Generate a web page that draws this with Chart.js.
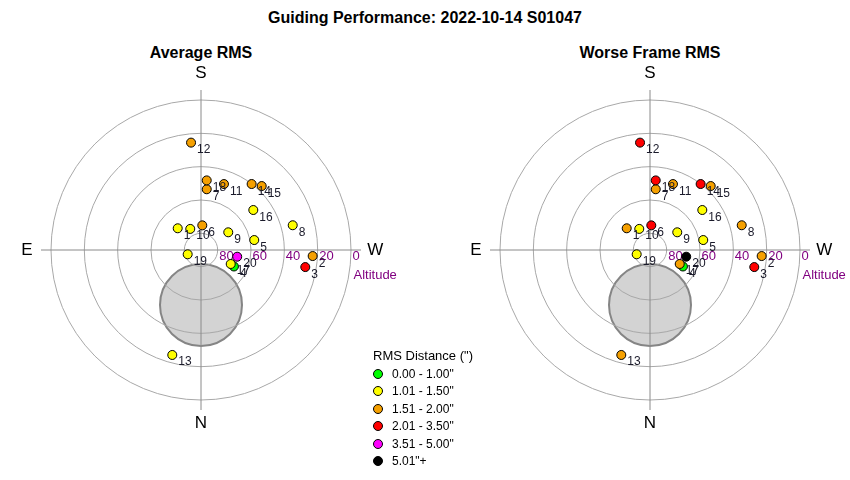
<!DOCTYPE html>
<html>
<head>
<meta charset="utf-8">
<script src="https://cdn.jsdelivr.net/npm/chart.js@4.4.1/dist/chart.umd.min.js"></script>
<style>
  html, body { margin:0; padding:0; background:#fff; }
  body { width:850px; height:480px; position:relative; overflow:hidden; font-family:"Liberation Sans", Arial, sans-serif; }
  .t { position:absolute; white-space:nowrap; transform:translate(-50%,-50%); color:#000; }
  .main { left:425px; top:18px; font-weight:bold; font-size:16px; }
  .sub { top:53px; font-weight:bold; font-size:16px; }
  canvas { position:absolute; }
  #legend { position:absolute; left:368px; top:348px; font-size:12px; }
  #legend .lt { position:absolute; left:5px; top:0; font-size:13px; white-space:nowrap; }
  #legend .it { position:absolute; left:0; white-space:nowrap; height:14px; line-height:14px; }
  #legend .mk { position:absolute; left:5px; top:2px; width:8px; height:8px; border:1px solid #000; border-radius:50%; }
  #legend .tx { position:absolute; left:24px; top:0; }
</style>
</head>
<body>
<div class="t main">Guiding Performance: 2022-10-14 S01047</div>
<div class="t sub" style="left:201px">Average RMS</div>
<div class="t sub" style="left:650px">Worse Frame RMS</div>
<canvas id="c1" width="400" height="400" style="left:1px;top:50px"></canvas>
<canvas id="c2" width="400" height="400" style="left:450px;top:50px"></canvas>
<div id="legend"></div>
<script>
// ---- data ----
const pointLabels = ['1','2','3','4','5','6','7','8','9','10','11','12','13','14','15','16','17','18','19','20'];
const altitudeDeg = [70.9, 22.9, 26.6, 67.9, 57.5, 75.2, 53.4, 33.0, 70.5, 75.8, 48.1, 25.3, 24.7, 40.1, 37.1, 50.5, 70.3, 48.1, 81.6, 67.9];
const azimuthDeg  = [133.0, 273.1, 279.3, 296.6, 259.4, 183.0, 185.4, 254.9, 237.0, 153.0, 199.2, 174.7, 15.3, 217.5, 223.5, 232.6, 295.2, 184.7, 72.1, 280.5];
const averageRms  = [1.3, 1.8, 2.5, 0.9, 1.3, 1.6, 1.7, 1.4, 1.3, 1.4, 1.7, 1.8, 1.4, 1.9, 1.7, 1.4, 1.2, 1.8, 1.3, 4.1];
const worstRms    = [1.9, 1.9, 2.9, 1.0, 1.5, 2.3, 2.0, 1.8, 1.5, 1.5, 2.0, 2.4, 1.8, 2.2, 2.0, 1.5, 1.7, 2.1, 1.4, 6.2];
const binUpper    = [1.00, 1.50, 2.00, 3.50, 5.00, Infinity];
const binLabels   = ['0.00 - 1.00"', '1.01 - 1.50"', '1.51 - 2.00"', '2.01 - 3.50"', '3.51 - 5.00"', '5.01"+'];
const altitudeRings = [80, 60, 40, 20, 0];
const ringLabels  = ['80', '60', '40', '20', '0'];
const cardinalLabels = ['S', 'N', 'E', 'W'];
const excludedZone = { alt: 57, az: 0, radius: 24.6 };

// ---- styles ----
const binColors = ['#00ff00', '#ffff00', '#f5a000', '#ff0000', '#ff00ff', '#000000'];

function binIndex(v) { for (let i = 0; i < binUpper.length; i++) if (v <= binUpper[i]) return i; return binUpper.length - 1; }
function toXY(alt, az) {
  const zd = 90 - alt, a = az * Math.PI / 180;
  return { x: -zd * Math.sin(a), y: -zd * Math.cos(a) };
}

const decor = {
  id: 'decor',
  beforeDatasetsDraw(chart) {
    const ctx = chart.ctx, xs = chart.scales.x, ys = chart.scales.y;
    const px = v => xs.getPixelForValue(v), py = v => ys.getPixelForValue(v);
    const cx = px(0), cy = py(0), unit = Math.abs(px(1) - px(0));
    ctx.save();
    // excluded zone disc
    const ez = toXY(excludedZone.alt, excludedZone.az);
    ctx.beginPath();
    ctx.arc(px(ez.x), py(ez.y), excludedZone.radius * unit, 0, Math.PI * 2);
    ctx.fillStyle = '#d3d3d3'; ctx.fill();
    ctx.lineWidth = 2; ctx.strokeStyle = '#858585'; ctx.stroke();
    // rings
    ctx.lineWidth = 1; ctx.strokeStyle = '#a8a8a8';
    altitudeRings.forEach(a => {
      ctx.beginPath(); ctx.arc(cx, cy, (90 - a) * unit, 0, Math.PI * 2); ctx.stroke();
    });
    // cross
    ctx.strokeStyle = '#8a8a8a';
    ctx.beginPath();
    ctx.moveTo(px(-96), cy); ctx.lineTo(px(96), cy);
    ctx.moveTo(cx, py(96)); ctx.lineTo(cx, py(-96));
    ctx.stroke();
    // ring labels
    ctx.fillStyle = '#800080'; ctx.font = '13px "Liberation Sans", Arial, sans-serif';
    ctx.textAlign = 'left'; ctx.textBaseline = 'middle';
    altitudeRings.forEach((a, i) => ctx.fillText(ringLabels[i], px(90 - a) + 1.5, cy + 6));
    ctx.textAlign = 'center';
    ctx.fillText('Altitude', px(104.5), py(-15));
    // cardinal labels
    ctx.fillStyle = '#000'; ctx.font = '17px "Liberation Sans", Arial, sans-serif';
    ctx.fillText(cardinalLabels[0], cx, py(106));
    ctx.fillText(cardinalLabels[1], cx, py(-104));
    ctx.fillText(cardinalLabels[2], px(-104.5), cy);
    ctx.fillText(cardinalLabels[3], px(104.5), cy);
    ctx.restore();
  },
  afterDatasetsDraw(chart) {
    const ctx = chart.ctx, meta = chart.getDatasetMeta(0);
    ctx.save();
    ctx.fillStyle = '#1a1a2a'; ctx.font = '12px "Liberation Sans", Arial, sans-serif';
    ctx.textAlign = 'left'; ctx.textBaseline = 'alphabetic';
    meta.data.forEach((el, i) => ctx.fillText(pointLabels[i], el.x + 6, el.y + 10.5));
    ctx.restore();
  }
};

function makeChart(id, values) {
  const pts = altitudeDeg.map((a, i) => toXY(a, azimuthDeg[i]));
  return new Chart(document.getElementById(id), {
    type: 'scatter',
    data: { datasets: [{
      data: pts,
      pointRadius: 4.5,
      pointBorderWidth: 1,
      pointBorderColor: '#000',
      clip: false,
      pointBackgroundColor: c => binColors[binIndex(values[c.dataIndex])]
    }]},
    options: {
      responsive: false, animation: false, devicePixelRatio: 1,
      layout: { padding: 0, autoPadding: false },
      plugins: { legend: { display: false }, tooltip: { enabled: false } },
      scales: {
        x: { type: 'linear', min: -120, max: 120, display: false },
        y: { type: 'linear', min: -120, max: 120, display: false }
      }
    },
    plugins: [decor]
  });
}
makeChart('c1', averageRms);
makeChart('c2', worstRms);

// legend
const lg = document.getElementById('legend');
const lt = document.createElement('div'); lt.className = 'lt'; lt.textContent = 'RMS Distance (")'; lg.appendChild(lt);
binLabels.forEach((t, i) => {
  const it = document.createElement('div'); it.className = 'it'; it.style.top = (19 + i * 17.4) + 'px';
  const mk = document.createElement('span'); mk.className = 'mk'; mk.style.background = binColors[i];
  const tx = document.createElement('span'); tx.className = 'tx'; tx.textContent = t;
  it.appendChild(mk); it.appendChild(tx); lg.appendChild(it);
});
</script>
</body>
</html>
